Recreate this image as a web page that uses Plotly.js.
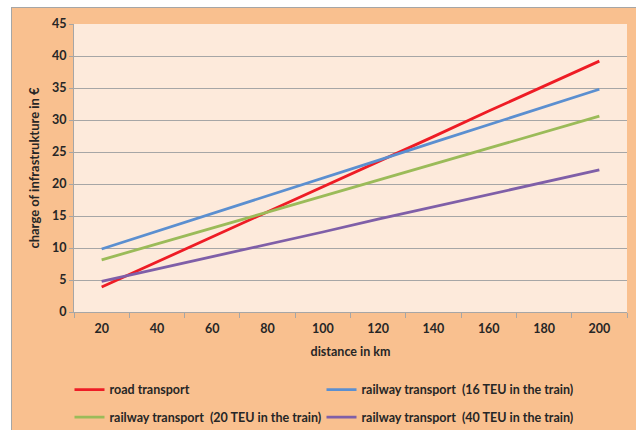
<!DOCTYPE html>
<html>
<head>
<meta charset="utf-8">
<script src="https://cdn.plot.ly/plotly-3.0.1.min.js"></script>
<style>
html,body{margin:0;padding:0;background:#fff;overflow:hidden;width:636px;height:430px;}
#wrap{position:absolute;left:11px;top:7px;width:625px;height:423px;border-top:1px solid #a6a6a6;border-left:1px solid #a6a6a6;background:#f9c08f;}
#chart{width:625px;height:423px;}
</style>
</head>
<body>
<div id="wrap"><div id="chart"></div></div>
<script>
const distances = ["20","40","60","80","100","120","140","160","180","200"];
const roadTransport = [3.9, 7.8, 11.8, 15.7, 19.6, 23.5, 27.4, 31.4, 35.3, 39.2];
const rail16TEU = [9.85, 12.6, 15.4, 18.2, 20.9, 23.7, 26.5, 29.3, 32.0, 34.8];
const rail20TEU = [8.15, 10.6, 13.1, 15.6, 18.1, 20.6, 23.1, 25.6, 28.1, 30.6];
const rail40TEU = [4.8, 6.7, 8.7, 10.6, 12.5, 14.5, 16.4, 18.3, 20.3, 22.2];
const seriesNames = [
  "road transport",
  "railway transport \u00a0(16 TEU in the train)",
  "railway transport \u00a0(20 TEU in the train)",
  "railway transport \u00a0(40 TEU in the train)"
];
const yTicks = [0,5,10,15,20,25,30,35,40,45];

const FONT = "Lato, 'Open Sans', sans-serif";
const TXT = "#262626";
const GRID = "#a6a6a6";

function tr(y, name, color, legend){
  return {x: distances, y: y, name: name, type: "scatter", mode: "lines",
    line: {color: color, width: 2.8}, legend: legend};
}
const data = [
  tr(roadTransport, seriesNames[0], "#ee1c25", "legend"),
  tr(rail16TEU, seriesNames[1], "#5b8fd0", "legend"),
  tr(rail20TEU, seriesNames[2], "#9bbb59", "legend2"),
  tr(rail40TEU, seriesNames[3], "#7f5fa8", "legend2")
];
const legFont = {family: FONT, size: 12.5, color: TXT, weight: "bold"};
const layout = {
  width: 625, height: 423,
  margin: {l: 62, r: 10, t: 16, b: 119, autoexpand: false},
  paper_bgcolor: "#f9c08f",
  plot_bgcolor: "#fdeadb",
  font: {family: FONT, size: 12, color: TXT, weight: "bold"},
  showlegend: true,
  xaxis: {
    type: "category",
    range: [-0.5, 9.5],
    tickson: "boundaries",
    ticks: "outside", ticklen: 5, tickcolor: GRID,
    ticklabelstandoff: 5,
    showline: true, linecolor: GRID, linewidth: 1,
    showgrid: false, zeroline: false,
    tickfont: {family: FONT, size: 12.5, color: TXT, weight: "bold"},
    title: {text: "distance in km", font: {family: FONT, size: 12.5, color: TXT, weight: "bold"}, standoff: 12}
  },
  yaxis: {
    range: [0, 45],
    tickvals: yTicks,
    ticks: "outside", ticklen: 4, tickcolor: GRID,
    showline: true, linecolor: GRID, linewidth: 1,
    showgrid: true, gridcolor: GRID, gridwidth: 1,
    zeroline: false,
    tickfont: {family: FONT, size: 12.5, color: TXT, weight: "bold"},
    title: {text: "charge of infrastrukture in €", font: {family: FONT, size: 13, color: TXT, weight: "bold"}, standoff: 9}
  },
  legend: {orientation: "h", xref: "container", yref: "container", x: 0.092, xanchor: "left", y: 0.097, yanchor: "middle",
    bgcolor: "rgba(0,0,0,0)", font: legFont, entrywidth: 207, entrywidthmode: "pixels", itemwidth: 30},
  legend2: {orientation: "h", xref: "container", yref: "container", x: 0.092, xanchor: "left", y: 0.032, yanchor: "middle",
    bgcolor: "rgba(0,0,0,0)", font: legFont, entrywidth: 207, entrywidthmode: "pixels", itemwidth: 30}
};
Plotly.newPlot("chart", data, layout, {displayModeBar: false, staticPlot: true});
</script>
</body>
</html>
